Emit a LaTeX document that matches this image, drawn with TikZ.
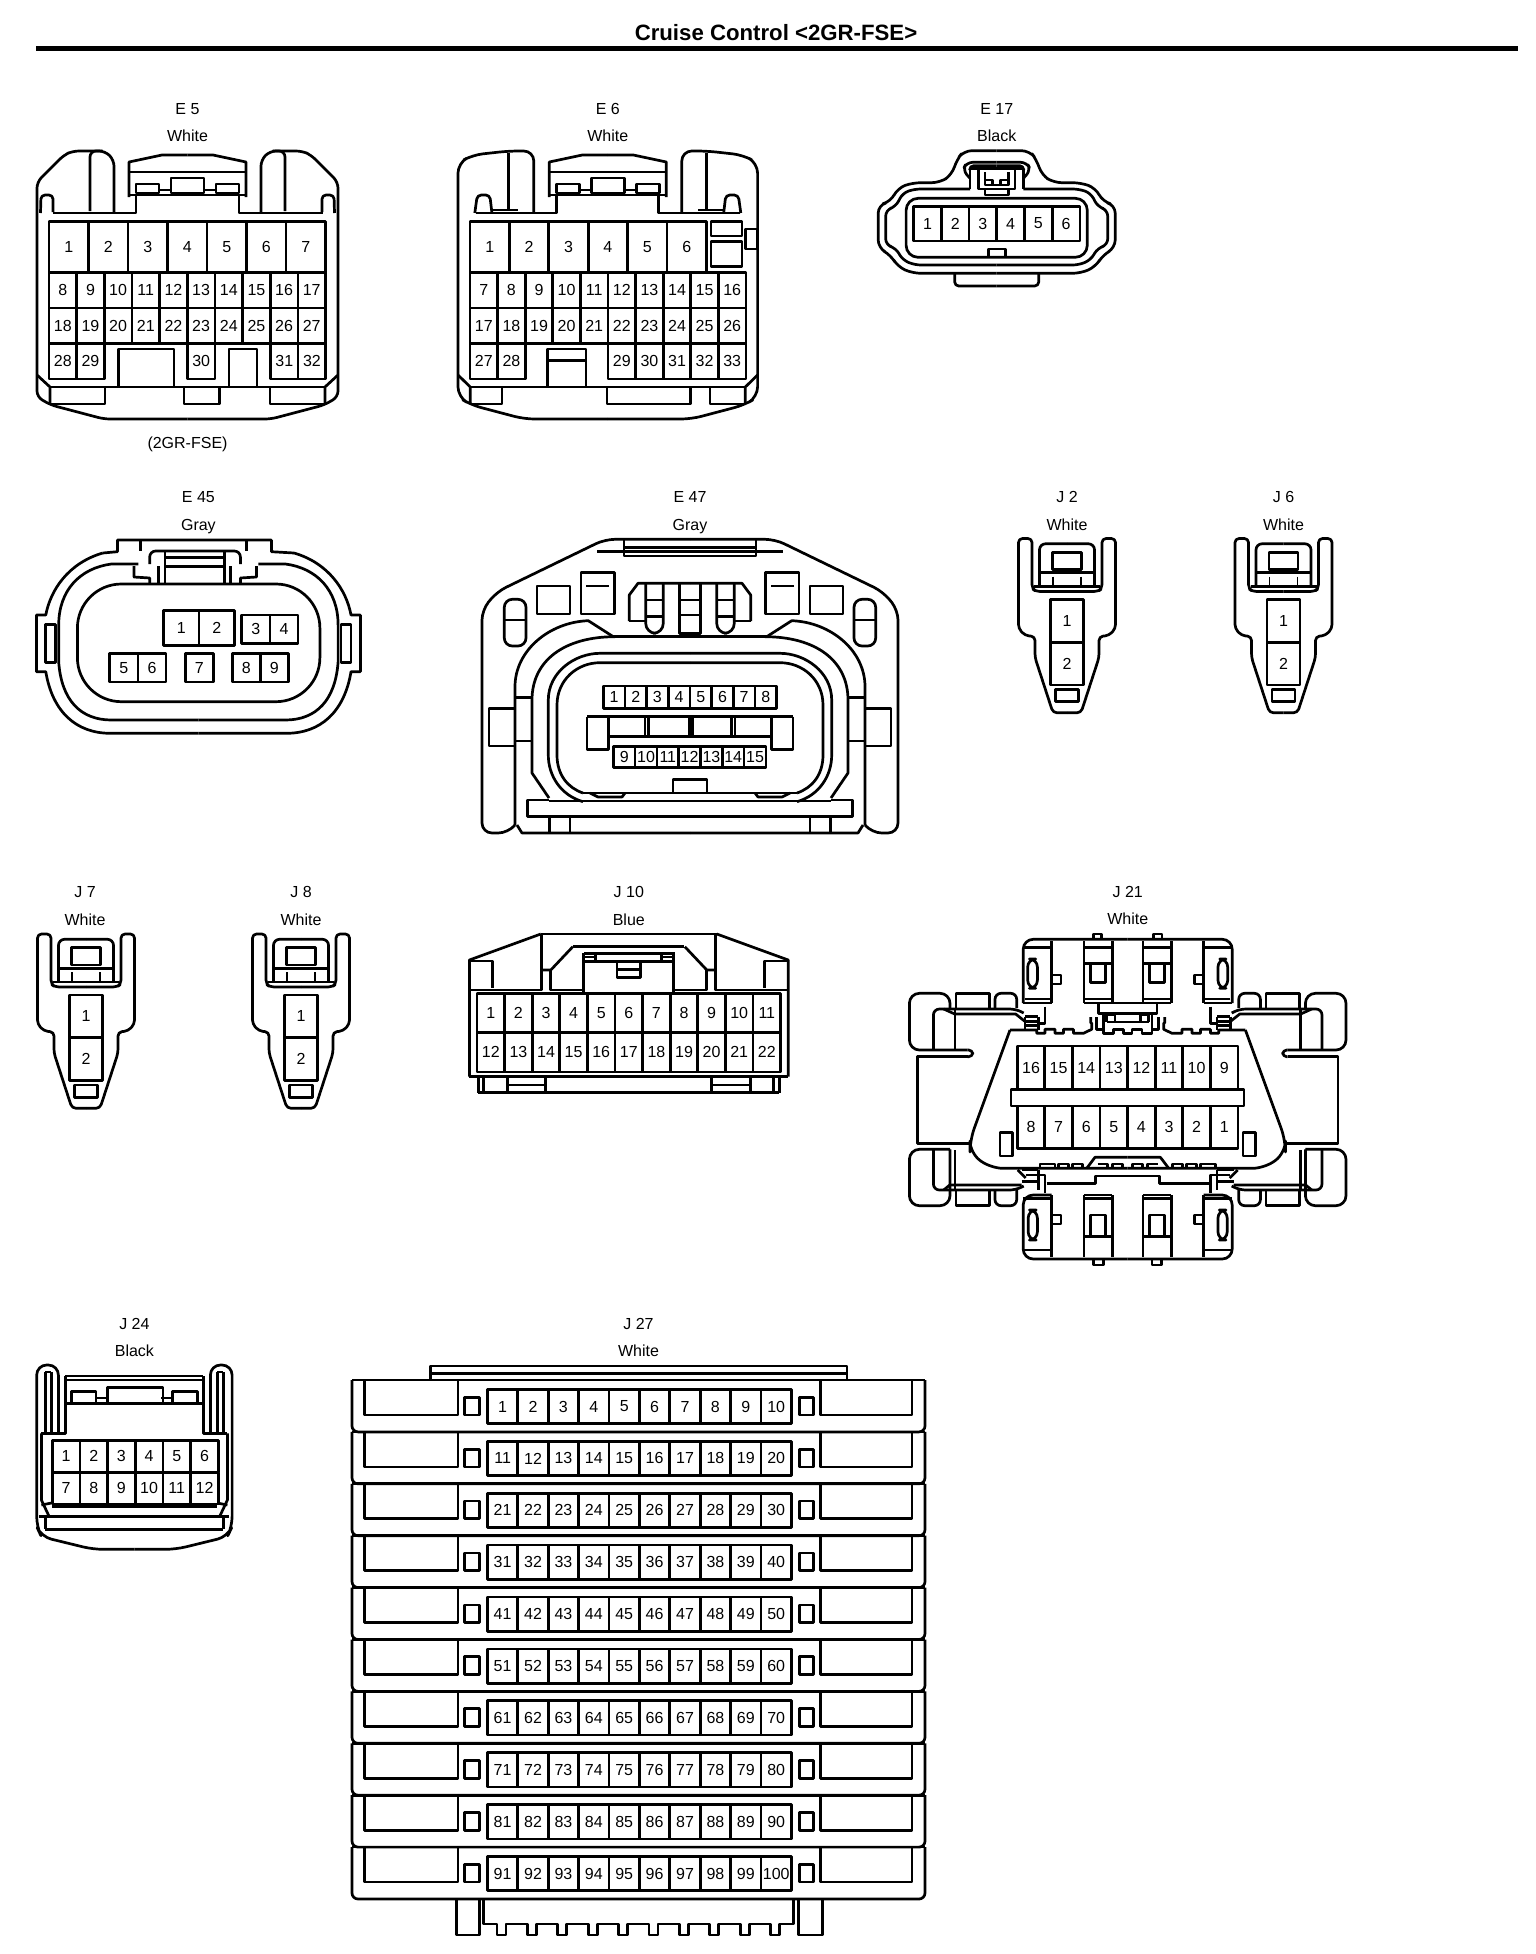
\documentclass[tikz,border=0pt]{standalone}
\usepackage{fontspec}
\setmainfont{Liberation Sans}

\newcommand{\pinrow}[8]{%
    \foreach \n [count=\i from 0] in {#2,...,#3} {
        \node[pinbox,minimum width=#7*0.5pt,minimum height=#8*0.5pt] (#1\n) at ({#4+\i*(#5)},#6) {\n};
    }%
}
\newcommand{\pindown}[8]{%
    \foreach \n [count=\i from 0] in {#2,#3,...,#4} {
        \node[pinbox,minimum width=#7*0.5pt,minimum height=#8*0.5pt] (#1\n) at ({#5+\i*27.6},#6) {\n};
    }%
}
\newcommand{\ecover}[1]{%
    \begin{scope}[shift={(#1,0)}]
        \draw (-58.5,195) -- (58.5,195);
        \draw (-58.5,172) -- (58.5,172);
        \draw (-16.5,178) rectangle (16.5,193);
        \foreach \s in {1,-1} {
            \begin{scope}[xscale=\s]
                \draw (-58.5,197) -- (-58.5,162) -- (-25.5,155) -- (0,155);
                \draw (-51.5,184) rectangle (-28.5,193);
                \draw (-28.5,190) -- (-16.5,190);
            \end{scope}
        }
    \end{scope}%
}
\newcommand{\plug}[2]{%
    \begin{scope}[shift={(#1,#2)}]
        \foreach \s in {1,-1} {
            \begin{scope}[xscale=\s]
                \draw[rounded corners=2pt] (0,174.3) -- (-14,174.3) -- (-32,119) -- (-32,98) -- (-42,97) -- (-48.5,90) -- (-48.5,0) -- (-35,0) -- (-35,50) -- (-31,53) -- (0,53);
                \draw[rounded corners=3pt] (0,5.3) -- (-27.5,5.3) -- (-27.5,48);
                \draw (-27.5,34.3) -- (0,34.3);
                \draw[line width=0.8pt] (-14,38) -- (-14,48);
            \end{scope}
        }
        \draw (-33,48) -- (33,48);
        \draw (-14.5,13.7) rectangle (14.5,31);
        \draw (-11.5,151) rectangle (11.5,163.3);
    \end{scope}%
}

\begin{document}
\begin{tikzpicture}[
    x=0.5pt,y=-0.5pt,
    line width=1.35pt,
    line join=round,
    conlabel/.style={inner sep=0pt,text height=5.7pt,text depth=0pt,font=\fontsize{8}{10}\selectfont},
    pinbox/.style={rectangle,draw,inner sep=0pt,font=\fontsize{8}{10}\selectfont},
    titletext/.style={inner sep=0pt,font=\fontsize{11.1}{13}\selectfont\bfseries},
]
    \useasboundingbox (0,0) rectangle (1536,1954);

    \node[titletext] (title) at (776,33) {Cruise Control <2GR-FSE>};
    \draw[line width=2.5pt] (36,48.5) -- (1518,48.5);

    % E 5
    \node[conlabel] (e5name) at (187.5,108.5) {E 5};
    \node[conlabel] (e5col) at (187.5,136) {White};
    \node[conlabel] (e5note) at (187.5,443) {(2GR-FSE)};
    \ecover{187.5}
    \begin{scope}[shift={(187.5,0)}]
        \foreach \s in {1,-1} {
            \begin{scope}[xscale=\s]
                \draw[rounded corners=3pt] (0,419) -- (-83.5,419) -- (-136.5,405) -- (-150.5,397) -- (-150.5,182) -- (-123.5,155) -- (-114.5,151) -- (-82.5,151) -- (-73.5,160) -- (-73.5,213);
                \draw (-51.5,195) -- (-51.5,213) -- (-135,213);
                \draw[rounded corners=2pt] (-147,213) -- (-146.5,195) -- (-134.5,195) -- (-134.5,212);
                \draw[rounded corners=3pt] (-97.5,211) -- (-97.5,151) -- (-85,151);
                \draw (-150.5,375) -- (-137.5,387) -- (-137.5,404);
            \end{scope}
        }
        \draw (-138,387) -- (138,387);
    \end{scope}
    \draw (50,404) -- (105,404) -- (105,388);
    \draw (184,388) -- (184,404) -- (219.5,404) -- (219.5,388);
    \draw (270,388) -- (270,404) -- (325,404);
    \draw (118.5,387) -- (118.5,349) -- (174,349) -- (174,387);
    \draw (229,387) -- (229,349) -- (257,349) -- (257,387);
    \pinrow{e5p}{1}{7}{68.75}{39.5}{247}{39.5}{51}
    \pinrow{e5p}{8}{17}{62.8}{27.66}{290.4}{27.66}{35.3}
    \pinrow{e5p}{18}{27}{62.8}{27.66}{325.5}{27.66}{35.3}
    \pinrow{e5p}{28}{29}{62.8}{27.66}{361}{27.66}{35.8}
    \pinrow{e5p}{30}{30}{201.2}{27.66}{361}{27.66}{35.8}
    \pinrow{e5p}{31}{32}{284.3}{27.66}{361}{27.66}{35.8}

    % E 6
    \node[conlabel] (e6name) at (607.8,108.5) {E 6};
    \node[conlabel] (e6col) at (607.8,136) {White};
    \ecover{607.8}
    \begin{scope}[shift={(607.8,0)}]
        \foreach \s in {1,-1} {
            \begin{scope}[xscale=\s]
                \draw[rounded corners=5pt] (0,419) -- (-83.5,419) -- (-136.5,405) -- (-149.8,397) -- (-149.8,163) -- (-135.2,155) -- (-99,151) -- (-74,151) -- (-74,213);
                \draw (-51,195) -- (-51,213) -- (-132,213);
                \draw[rounded corners=2pt] (-133,213) -- (-130.5,195) -- (-118,195) -- (-116,212);
                \draw (-99,153) -- (-99,210) (-116,210) -- (-90,210);
                \draw (-149.8,375) -- (-137.5,387) -- (-137.5,404);
            \end{scope}
        }
        \draw (-138,387) -- (138,387);
    \end{scope}
    \draw (471,404) -- (502,404) -- (502,388);
    \draw (607,388) -- (607,404) -- (690.5,404) -- (690.5,388);
    \draw (710,388) -- (710,404) -- (746,404);
    \draw (547.5,387) -- (547.5,349) -- (586,349) -- (586,387);
    \draw (547.5,360.7) -- (586,360.7);
    \draw (711,221.7) rectangle (742,236);
    \draw (711,241.7) rectangle (742,266.7);
    \draw (745.5,229) rectangle (757.6,249);
    \pinrow{e6p}{1}{6}{489.7}{39.4}{247}{39.4}{51}
    \pinrow{e6p}{7}{16}{483.8}{27.6}{290.4}{27.6}{35.3}
    \pinrow{e6p}{17}{26}{483.8}{27.6}{325.5}{27.6}{35.3}
    \pinrow{e6p}{27}{28}{483.8}{27.6}{361}{27.6}{35.8}
    \pinrow{e6p}{29}{33}{621.8}{27.6}{361}{27.6}{35.8}

    % E 17
    \node[conlabel] (e17name) at (996.7,108.5) {E 17};
    \node[conlabel] (e17col) at (996.7,136) {Black};
    \begin{scope}[shift={(996.7,0)}]
        \foreach \s in {1,-1} {
            \begin{scope}[xscale=\s]
                \draw[rounded corners=4pt] (0,150.7) -- (-33,150.7) -- (-40,160) -- (-45,175) -- (-57,182.7) -- (-84,182.7) -- (-99,188) -- (-106,201.7) -- (-118.5,205) -- (-118.5,248) -- (-106,255) -- (-99,266.7) -- (-84,273.3) -- (0,273.3);
                \draw[rounded corners=3pt] (-26.7,189) -- (-82,189) -- (-94,193) -- (-101,206.7) -- (-111,210) -- (-111,245) -- (-101,248) -- (-94,260) -- (-82,265) -- (0,265);
                \draw[rounded corners=3pt] (-27,178) -- (-34,170) -- (-30,162.3) -- (0,162.3);
                \draw[rounded corners=2pt] (-27,169) -- (-27,165.7) -- (0,165.7);
                \draw (-27,168.5) -- (0,168.5);
                \draw (-26.7,169) -- (-26.7,189) (-18.3,170) -- (-18.3,189) -- (0,189);
                \draw[rounded corners=2pt] (0,286) -- (-42,286) -- (-42,274);
                \draw (-11.7,180) -- (-4,180) -- (-4,184);
            \end{scope}
        }
        \draw (-11.7,172) -- (-11.7,185) -- (11.7,185) -- (11.7,172);
        \draw (-11.7,189) -- (-11.7,195) -- (11.7,195) -- (11.7,189);
        \draw[rounded corners=6pt] (-90.6,198.3) rectangle (90.6,257.3);
        \draw (-8.5,257) -- (-8.5,249) -- (8.5,249) -- (8.5,257);
    \end{scope}
    \pinrow{e17p}{1}{6}{927.5}{27.7}{223.5}{27.7}{34.7}

    % E 45
    \node[conlabel] (e45name) at (198.4,497) {E 45};
    \node[conlabel] (e45col) at (198.4,525) {Gray};
    \begin{scope}[shift={(198.4,0)}]
        \foreach \s in {1,-1} {
            \begin{scope}[xscale=\s]
                \draw (-95.6,553) .. controls (-130,563) and (-148,590) .. (-152.6,615) -- (-162,615) -- (-162,671.7) -- (-152.6,671.7) .. controls (-146,712) and (-122,733.3) .. (-88,733.3) -- (0,733.3);
                \draw (-60,564) -- (-87,564) .. controls (-118,568) and (-139.7,590) .. (-139.7,625) -- (-139.7,662) .. controls (-137,700) and (-118,720) .. (-87,720) -- (0,720);
                \draw (-152.6,624.3) rectangle (-142.6,662.7);
            \end{scope}
        }
        \draw[rounded corners=22pt] (-121,584) rectangle (121.5,701.7);
        \draw (-95.6,553) -- (-81,551.7) -- (-81,540) -- (73,540) -- (73,551.7) -- (95.6,553);
        \draw (-58,540) -- (-58,551) (48,540) -- (48,551);
        \draw[rounded corners=3pt] (-48.7,564) -- (-48.7,551) -- (42,551) -- (42,564);
        \draw (-33.5,551) -- (-33.5,583.3) (26.4,551) -- (26.4,583.3);
        \draw (-33.5,557.3) -- (26.4,557.3) (-33.5,566.7) -- (26.4,566.7);
        \draw (-40,566) -- (-40,583.3) (32,566) -- (32,583.3);
        \draw (-64.5,566) -- (-64.5,577) -- (-48.7,578) -- (-48.7,583.3);
        \draw (58,566) -- (58,577) -- (42,578) -- (42,583.3);
    \end{scope}
    \pinrow{e45p}{1}{2}{181.2}{35.7}{628.2}{35.7}{35}
    \pinrow{e45p}{3}{4}{255.8}{28.2}{629.2}{28.2}{28.3}
    \pinrow{e45p}{5}{6}{123.8}{28.2}{667.7}{28.2}{28.7}
    \pinrow{e45p}{7}{7}{199.3}{28}{667.7}{27.7}{28.7}
    \pinrow{e45p}{8}{9}{246.4}{27.9}{667.7}{27.9}{28.7}

    % E 47
    \node[conlabel] (e47name) at (690,497) {E 47};
    \node[conlabel] (e47col) at (690,525) {Gray};
    \begin{scope}[shift={(690,0)}]
        \foreach \s in {1,-1} {
            \begin{scope}[xscale=\s]
                \draw[rounded corners=5pt] (0,539.3) -- (-85,539.3) -- (-193,591.7) -- (-208,610) -- (-208,833) -- (-181.7,833) -- (-175,825);
                \draw (-173,825) -- (-168,833) -- (0,833);
                \draw (-175,825) -- (-175,686.7) .. controls (-175,650) and (-140,622) .. (-101.7,620.7) -- (-76.7,636.7);
                \draw (-76.7,636.7) -- (0,636.7);
                \draw (-141,798) -- (-158,773) -- (-158,700) .. controls (-158,660) and (-125,636.7) .. (-75,636.7);
                \draw (-107,801.7) .. controls (-130,795) and (-141.7,775) .. (-141.7,755) -- (-141.7,700) .. controls (-141.7,672) and (-115,653.3) .. (-90,653.3) -- (0,653.3);
                \draw (-107,793) .. controls (-122,788) and (-133,775) .. (-133,755) -- (-133,705) .. controls (-133,680) and (-113,662.7) .. (-90,662.7) -- (0,662.7);
                \draw (-100,793) -- (-92,797) -- (-68,797) -- (-65,793);
                \draw (-153,586) rectangle (-120,614);
                \draw (-109,572.3) rectangle (-75.7,614);
                \draw (-104,586) -- (-81,586);
                \draw[rounded corners=4pt] (-185.7,599.3) rectangle (-164,646);
                \draw (-185.7,620) -- (-164,620);
                \draw (-60.7,621) -- (-60.7,595) -- (-52,583.3) -- (0,583.3);
                \draw (-60.7,621) -- (-44.3,621);
                \draw[rounded corners=5pt] (-44.3,583.3) -- (-44.3,633.3) -- (-26.7,633.3) -- (-26.7,583.3);
                \draw (-44.3,600) -- (-26.7,600) (-44.3,616.7) -- (-26.7,616.7);
                \draw (-175,697.7) -- (-158,697.7) (-175,741) -- (-158,741);
                \draw (-175,708.3) -- (-201,708.3) -- (-201,746) -- (-175,746);
                \draw (-103,716.7) -- (-103,749.3) -- (-81.7,749.3) -- (-81.7,716.7);
                \draw (-45,716.7) -- (-45,736.7) (-41.7,716.7) -- (-41.7,736.7);
                \draw (-141,800) -- (-162.6,800) -- (-162.6,816.7) -- (0,816.7);
                \draw (-140.7,817) -- (-140.7,833) (-120,817) -- (-120,833);
            \end{scope}
        }
        \draw (-93,551.7) -- (93,551.7);
        \draw (-66,539.3) -- (-66,556) -- (66,556) -- (66,539.3);
        \draw (-66,547.3) -- (66,547.3);
        \draw (-10.7,583.3) -- (-10.7,633.3) -- (10.7,633.3) -- (10.7,583.3);
        \draw (-10.7,600) -- (10.7,600) (-10.7,615) -- (10.7,615);
        \draw (-103,716.7) -- (103,716.7);
        \draw (-81.7,736.7) -- (81.7,736.7);
        \draw (-0.7,716.7) -- (-0.7,736.7) (2.7,716.7) -- (2.7,736.7);
        \draw (-17,791.7) -- (-17,779.3) -- (17,779.3) -- (17,791.7);
        \draw (-107,793) -- (107,793);
        \draw (-141,801) -- (141,801);
    \end{scope}
    \pinrow{e47p}{1}{8}{614.1}{21.67}{697.2}{21.67}{22.3}
    \pinrow{e47p}{9}{15}{624.2}{21.8}{757}{21.8}{20.6}

    % J 2, J 6, J 7, J 8
    \node[conlabel] (j2name) at (1067,497) {J 2};
    \node[conlabel] (j2col) at (1067,525) {White};
    \plug{1067}{538.5}
    \pinrow{j2p}{1}{1}{1067}{0}{620.8}{33}{42.7}
    \pinrow{j2p}{2}{2}{1067}{0}{663.5}{33}{42.7}
    \node[conlabel] (j6name) at (1283.5,497) {J 6};
    \node[conlabel] (j6col) at (1283.5,525) {White};
    \plug{1283.5}{538.5}
    \pinrow{j6p}{1}{1}{1283.5}{0}{620.8}{33}{42.7}
    \pinrow{j6p}{2}{2}{1283.5}{0}{663.5}{33}{42.7}
    \node[conlabel] (j7name) at (85,892) {J 7};
    \node[conlabel] (j7col) at (85,920) {White};
    \plug{86}{934}
    \pinrow{j7p}{1}{1}{86}{0}{1016.3}{33}{42.7}
    \pinrow{j7p}{2}{2}{86}{0}{1059}{33}{42.7}
    \node[conlabel] (j8name) at (301,892) {J 8};
    \node[conlabel] (j8col) at (301,920) {White};
    \plug{301}{934}
    \pinrow{j8p}{1}{1}{301}{0}{1016.3}{33}{42.7}
    \pinrow{j8p}{2}{2}{301}{0}{1059}{33}{42.7}

    % J 10
    \node[conlabel] (j10name) at (628.8,892) {J 10};
    \node[conlabel] (j10col) at (628.8,920) {Blue};
    \begin{scope}[shift={(628.8,0)}]
        \draw (-88,934) -- (88,934);
        \draw (-159.4,1076.7) -- (159.4,1076.7);
        \draw (-56,946.7) -- (55.5,946.7);
        \draw (-44.6,953.3) -- (45.7,953.3);
        \draw (-44.6,961.7) -- (45.7,961.7);
        \draw (-11.7,961.7) -- (-11.7,977.3) -- (11.7,977.3) -- (11.7,961.7);
        \draw (-11.7,969.3) -- (11.7,969.3);
        \draw (-150.6,1092.7) -- (150.6,1092.7);
        \foreach \s in {1,-1} {
            \begin{scope}[xscale=\s]
                \draw (-88,934) -- (-159.4,960) -- (-159.4,1076.7);
                \draw (-159.4,961) -- (-136,961) -- (-136,988);
                \draw (-159.4,990) -- (-87,990) -- (-87,934);
                \draw (-87,970) -- (-78,970) -- (-56,946.7);
                \draw (-78,970) -- (-78,990) -- (-45,990);
                \draw (-45,953.3) -- (-45,992);
                \draw (-33,955) -- (-33,960) (-45,957) -- (-33,957);
                \draw (-150.6,1077) -- (-150.6,1092.7);
                \draw (-145,1077) -- (-145,1092.7);
                \draw (-121.6,1077) -- (-121.6,1092.7);
                \draw (-83,1077) -- (-83,1092.7);
                \draw (-121.6,1085) -- (-83,1085);
            \end{scope}
        }
    \end{scope}
    \pinrow{j10p}{1}{11}{490.8}{27.6}{1013}{27.6}{39.4}
    \pinrow{j10p}{12}{22}{490.8}{27.6}{1052.3}{27.6}{39.2}

    % J 21
    \node[conlabel] (j21name) at (1127.7,892) {J 21};
    \node[conlabel] (j21col) at (1127.7,919) {White};
    \begin{scope}[shift={(1127.7,0)}]
        \foreach \s in {1,-1} {
            \begin{scope}[xscale=\s]
                % side arms
                \draw[rounded corners=5pt] (-177.7,1008) -- (-177.7,993.3) -- (-218.3,993.3) -- (-218.3,1050) -- (-160,1050);
                \draw[rounded corners=2pt] (-160,1050) -- (-155,1050) -- (-155,1056.7) -- (-160,1056.7);
                \draw (-160,1056.7) -- (-210.3,1056.7) -- (-210.3,1143.3) -- (-157,1143.3);
                \draw[rounded corners=5pt] (-177.7,1149.3) -- (-218.3,1149.3) -- (-218.3,1205.7) -- (-177.7,1205.7) -- (-177.7,1149.3);
                \draw (-171.7,1008) -- (-171.7,993.3) -- (-138.3,993.3) -- (-138.3,1008);
                \draw[rounded corners=3pt] (-132.7,1008) -- (-132.7,993.3) -- (-111,993.3) -- (-111,1008);
                \draw[rounded corners=3pt] (-194.3,1050) -- (-194.3,1009) -- (-112,1009) -- (-104,1013);
                \draw (-184,1009) -- (-173,1014) -- (-112,1014) -- (-102,1022);
                \draw (-172.7,1010) -- (-172.7,1050);
                \draw[rounded corners=3pt] (-194.3,1150) -- (-194.3,1190) -- (-112,1190) -- (-104,1186);
                \draw (-184,1190) -- (-178,1185) -- (-106,1185);
                \draw (-172.7,1150) -- (-172.7,1190);
                \draw (-171.7,1190) -- (-171.7,1205.7) -- (-138.3,1205.7) -- (-138.3,1190);
                \draw[rounded corners=3pt] (-132.7,1190) -- (-132.7,1205.7) -- (-111,1205.7) -- (-111,1190);
                % upper block
                \draw[rounded corners=5pt] (0,939.3) -- (-104.5,939.3) -- (-104.5,1003);
                \draw (-76,941) -- (-76,1003) (-104.5,947.3) -- (-76,947.3) (-102.7,999) -- (-76,999);
                \draw[rounded corners=4pt] (-100,959) rectangle (-90.3,988.3);
                \draw (-76,975) -- (-66.7,975) -- (-66.7,984) -- (-76,984);
                \draw (-43.7,941) -- (-43.7,1003) (-15.3,941) -- (-15.3,1003);
                \draw (-43.7,947.3) -- (-15.3,947.3) (-43.7,999) -- (-15.3,999);
                \draw (-43.7,963.3) -- (-15.3,963.3);
                \draw (-37,963.3) -- (-37,982.7) -- (-22,982.7) -- (-22,963.3);
                \draw (-34.3,939) -- (-34.3,934) -- (-26,934) -- (-26,939);
                \draw (-104.5,1003) -- (-76,1003) (-43.7,1003) -- (0,1003);
                % upper joint
                \draw (-29.3,1003) -- (-29.3,1013.3) -- (0,1013.3);
                \draw (-24.3,1013.3) -- (-24.3,1033.3) -- (-14.3,1033.3) -- (-14.3,1029.3) -- (-4.3,1029.3) -- (-4.3,1033.3) -- (0,1033.3);
                \draw (-21,1022) -- (-21,1015) -- (-12.7,1015) -- (-12.7,1022);
                \draw (-21,1022) -- (0,1022);
                \draw (-31,1017) -- (-31,1029.3) -- (-24.3,1029.3);
                \draw (-117.7,1030) -- (-91,1030) -- (-91,1033.3) -- (-82.7,1033.3) -- (-82.7,1029.3) -- (-72.7,1029.3) -- (-72.7,1033.3) -- (-64.3,1033.3) -- (-64.3,1029.3) -- (-54.3,1029.3) -- (-54.3,1033.3) -- (-44.3,1033.3) -- (-36,1029.3) -- (-36,1023) -- (-37,1023) -- (-37,1017);
                \draw (-102.7,1016.7) -- (-102.7,1030) (-89.3,1016.7) -- (-89.3,1030);
                \draw (-102.7,1016.7) -- (-89.3,1016.7) (-102.7,1021.7) -- (-89.3,1021.7) (-102.7,1025.5) -- (-89.3,1025.5);
                \draw (-82.7,1006.7) -- (-82.7,1023.3) -- (-89.3,1023.3);
                % lower block
                \draw[rounded corners=5pt] (-76,1195) -- (-104.5,1195) -- (-104.5,1259) -- (0,1259);
                \draw (-76,1195) -- (-76,1257) (-104.5,1198.3) -- (-76,1198.3) (-104.5,1250) -- (-76,1250);
                \draw[rounded corners=4pt] (-99.5,1210) rectangle (-90.3,1240);
                \draw (-76,1215) -- (-66.7,1215) -- (-66.7,1224) -- (-76,1224);
                \draw (-43.7,1195) -- (-43.7,1257) (-15.3,1195) -- (-15.3,1257) (-43.7,1195) -- (-15.3,1195);
                \draw (-43.7,1198.3) -- (-15.3,1198.3) (-43.7,1236.7) -- (-15.3,1236.7);
                \draw (-37,1236.7) -- (-37,1215) -- (-22,1215) -- (-22,1236.7);
                \draw (-34,1259) -- (-34,1265) -- (-24.3,1265) -- (-24.3,1259);
                % lower joint
                \draw (-81,1183.3) -- (-32,1183.3) -- (-32,1176) -- (0,1176);
                \draw (-106,1170) -- (-89.3,1170) (-102,1175) -- (-89.3,1175) (-106,1181.7) -- (-89.3,1181.7);
                \draw (-89.3,1170) -- (-89.3,1190);
                \draw (-89.3,1175) -- (-82.7,1175) -- (-82.7,1193);
                \draw (-110,1170) -- (-102,1178);
                % body and teeth
                \draw[rounded corners=6pt] (-117.7,1030) -- (-157.7,1140) -- (-157.7,1153) -- (-137,1168.3) -- (0,1168.3);
                \draw (-87.7,1168) -- (-87.7,1164) -- (-72.7,1164) -- (-72.7,1168) (-69,1168) -- (-69,1164) -- (-59,1164) -- (-59,1168) (-55,1168) -- (-55,1164) -- (-45,1164) -- (-45,1168);
                \draw (-41,1168.3) -- (-32.7,1157.3) -- (0,1157.3);
                \draw (-30,1164) -- (-20,1164) -- (-20,1168) (-15,1168) -- (-15,1164) -- (-5,1164) -- (-5,1168);
                \draw (-127.7,1132.7) rectangle (-115.3,1156);
            \end{scope}
        }
        \draw (-116.7,1089.3) rectangle (116.3,1106);
    \end{scope}
    \pindown{j21p}{16}{15}{9}{1031}{1067.7}{27.6}{43.3}
    \pindown{j21p}{8}{7}{1}{1031}{1127.2}{27.6}{42.3}

    % J 24
    \node[conlabel] (j24name) at (134.4,1323.3) {J 24};
    \node[conlabel] (j24col) at (134.4,1351) {Black};
    \begin{scope}[shift={(134.4,0)}]
        \foreach \s in {1,-1} {
            \begin{scope}[xscale=\s]
                \draw[rounded corners=5pt] (0,1549.3) -- (-41.5,1549.3) -- (-93,1536.7) -- (-97.7,1526.7) -- (-97.7,1365) -- (-76,1365) -- (-76,1433.3);
                \draw (-89,1372) -- (-89,1433.3) (-83,1372) -- (-83,1433.3) (-89,1372) -- (-83,1372);
                \draw (-69,1376) -- (-69,1433.3) -- (-93,1433.3);
                \draw (-63,1403.3) -- (-63,1391.7) -- (-38.4,1391.7) -- (-38.4,1403.3);
                \draw (-93,1433.3) -- (-93,1500) -- (-85,1517);
                \draw (-83,1503) -- (-93,1505);
                \draw (-89,1517) -- (-89,1529.3);
                \draw (-38.4,1398) -- (-27,1398);
            \end{scope}
        }
        \draw (-69,1376) -- (69,1376);
        \draw (-69,1380) -- (69,1380);
        \draw (-69,1403.3) -- (69,1403.3);
        \draw (-27,1403.3) -- (-27,1387.3) -- (28.5,1387.3) -- (28.5,1403.3);
        \draw (-82,1506.7) -- (83,1506.7);
        \draw (-95,1516.7) -- (95,1516.7);
        \draw (-89,1529.3) -- (89,1529.3);
    \end{scope}
    \pinrow{j24p}{1}{6}{66}{27.7}{1456}{27.7}{31.7}
    \pinrow{j24p}{7}{12}{66}{27.7}{1488}{27.7}{31.7}

    % J 27
    \node[conlabel] (j27name) at (638.5,1323.3) {J 27};
    \node[conlabel] (j27col) at (638.5,1351) {White};
    \draw (430.2,1380) -- (430.2,1366) -- (847,1366) -- (847,1380);
    \draw (430.2,1373.3) -- (847,1373.3);
    \foreach \r in {0,...,9} {
        \pgfmathsetmacro{\rowtop}{1380+51.9*\r}
        \pgfmathsetmacro{\rowmid}{\rowtop+26.5}
        \pgfmathtruncatemacro{\rowfirst}{\r*10+1}
        \pgfmathtruncatemacro{\rowlast}{\r*10+10}
        \begin{scope}[shift={(0,\rowtop)}]
            \draw[rounded corners=3pt] (352,0) -- (352,51.9) -- (925,51.9) -- (925,0);
            \draw (352,0) -- (925,0);
            \draw (364.6,0) -- (364.6,35) -- (458,35) -- (458,0);
            \draw (820.3,0) -- (820.3,35) -- (912,35) -- (912,0);
            \draw (464.6,17.3) rectangle (479.2,35);
            \draw (799.4,17.3) rectangle (813.2,35);
        \end{scope}
        \pinrow{j27p}{\rowfirst}{\rowlast}{502.6}{30.4}{\rowmid}{30.4}{34.3}
    }
    \draw (456.5,1900) -- (456.5,1935) -- (479.5,1935) -- (479.5,1900);
    \draw (798.6,1900) -- (798.6,1935) -- (822.3,1935) -- (822.3,1900);
    \draw (483.4,1900) -- (483.4,1924)
        \foreach \t in {0,...,9} { -- ({497+30.4*\t},1924) -- ({497+30.4*\t},1935) -- ({506+30.4*\t},1935) -- ({506+30.4*\t},1924) }
        -- (793.4,1924) -- (793.4,1900);
\end{tikzpicture}
\end{document}
